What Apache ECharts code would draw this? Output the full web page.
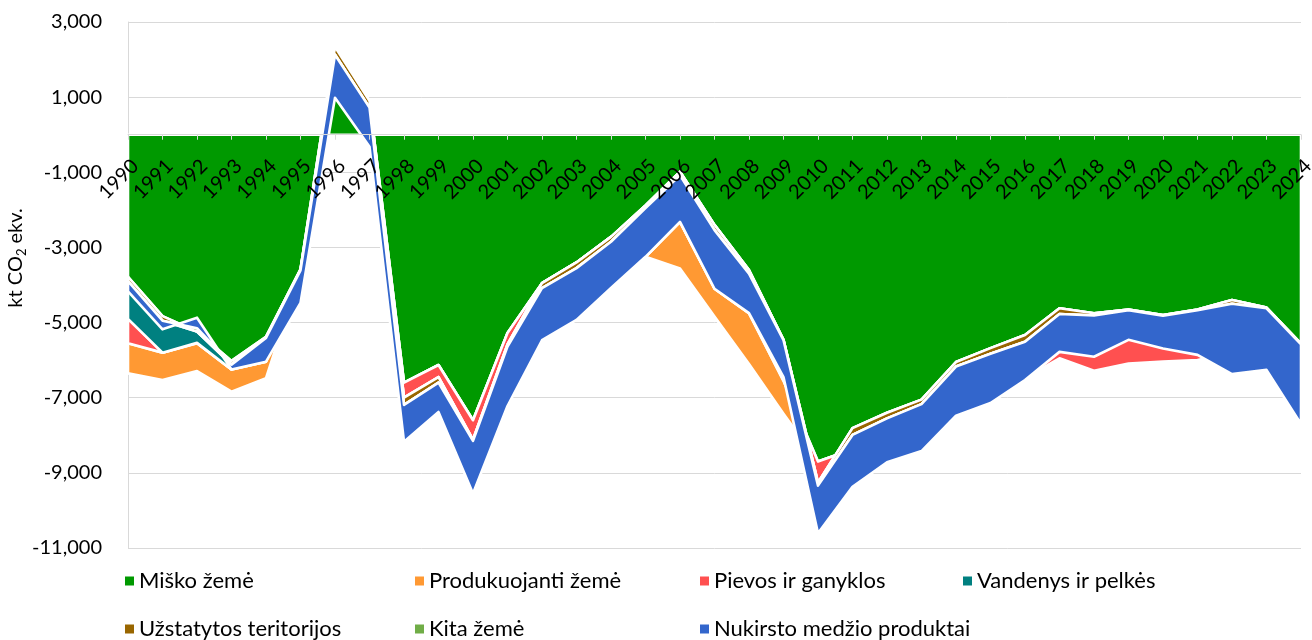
<!DOCTYPE html>
<html>
<head>
<meta charset="utf-8">
<script src="https://cdn.jsdelivr.net/npm/echarts@6/dist/echarts.min.js"></script>
<style>html,body{margin:0;padding:0;background:#fff}#c{width:1312px;height:640px}</style>
</head>
<body>
<div id="c"></div>
<script>
const years = ['1990','1991','1992','1993','1994','1995','1996','1997','1998','1999','2000','2001','2002','2003','2004','2005','2006','2007','2008','2009','2010','2011','2012','2013','2014','2015','2016','2017','2018','2019','2020','2021','2022','2023','2024'];

const miskoZeme     = [-6350,-6530,-6290,-6840,-6480,-3650,1840,900,-6600,-6130,-7600,-5280,-3950,-3400,-2720,-3250,-3560,-4840,-6100,-7430,-8700,-8370,-8100,-7800,-7000,-6600,-6470,-5950,-6280,-6090,-6040,-6000,-5810,-5800,-7000];
const produkuojanti = [800,730,740,590,440,40,300,0,0,0,0,0,0,0,0,0,1240,740,1350,880,0,0,0,0,0,0,0,0,0,0,0,0,0,0,0];
const pievos        = [650,0,10,0,660,30,200,0,-400,-320,-520,-300,0,0,0,1370,1335,1700,1150,1090,-560,560,700,750,950,920,1140,1330,1530,1440,1240,1350,1410,1200,1440];
const vandenys      = [1120,970,300,230,0,0,0,0,0,0,0,0,0,0,0,0,0,0,0,0,0,0,0,0,0,0,0,0,0,0,0,0,0,0,0];
const uzstatytos    = [-120,-120,0,-100,-30,-30,-210,-180,-190,-150,-30,-60,-130,-150,-130,-70,-95,-140,-100,-10,-80,-180,-150,-120,-120,-150,-180,-150,-60,-20,-20,-20,-100,-20,-20];
const kitaZeme      = [0,0,90,0,0,0,0,0,0,0,0,0,0,0,0,0,0,0,0,0,0,0,0,0,0,0,0,0,0,0,0,0,0,0,0];
const nukirsto      = [-270,-230,280,-130,-630,-870,-1145,-1040,-980,-780,-1400,-1580,-1390,-1380,-1230,-1300,-1240,-1560,-1050,-980,-1270,-1380,-1170,-1250,-1310,-1310,-1020,-1010,-1100,-790,-870,-1190,-1870,-1640,-2120];

const yTicks = { min: -11000, max: 3000, step: 2000 };

const seriesNames = ['Miško žemė','Produkuojanti žemė','Pievos ir ganyklos','Vandenys ir pelkės','Užstatytos teritorijos','Kita žemė','Nukirsto medžio produktai'];
const seriesData  = [miskoZeme, produkuojanti, pievos, vandenys, uzstatytos, kitaZeme, nukirsto];
const colors = ['#009900','#FF9933','#FF5050','#008080','#996600','#70AD47','#3366CC'];

// cumulative stacking (all signs summed in series order, like a stacked area chart)
const n = years.length;
const bases = [], tops = [];
let run = years.map(() => 0);
seriesData.forEach(arr => {
  bases.push(run.slice());
  run = run.map((v, i) => v + arr[i]);
  tops.push(run.slice());
});

function makeRender(k) {
  return function (params, api) {
    if (params.dataIndex !== 0) return null;
    const pts = [];
    for (let i = 0; i < n; i++) pts.push(api.coord([i, tops[k][i]]));
    for (let i = n - 1; i >= 0; i--) pts.push(api.coord([i, bases[k][i]]));
    return {
      type: 'polygon',
      shape: { points: pts },
      style: { fill: colors[k], stroke: '#ffffff', lineWidth: 2.6, lineJoin: 'round' }
    };
  };
}

const FONT = 'Lato';
const GRID = { left: 128, right: 11, top: 22, bottom: 92 };
const gridH = 640 - GRID.top - GRID.bottom;
// place the category axis on the zero line
const zeroOffset = -gridH * (0 - yTicks.min) / (yTicks.max - yTicks.min);

const legendPos = [[125,570],[415,570],[700,570],[963,570],[125,618],[415,618],[700,618]];

const option = {
  animation: false,
  backgroundColor: '#fff',
  grid: Object.assign({ containLabel: false, outerBoundsMode: 'none' }, GRID),
  xAxis: {
    type: 'category',
    data: years,
    boundaryGap: false,
    z: 10,
    offset: zeroOffset,
    axisLine: { onZero: false, lineStyle: { color: '#d9d9d9', width: 1 } },
    axisTick: { show: true, alignWithLabel: true, length: 5, lineStyle: { color: '#d9d9d9' } },
    axisLabel: { rotate: 45, interval: 0, fontSize: 20, fontFamily: FONT, color: '#000', margin: 21, verticalAlign: 'top' },
    splitLine: { show: false }
  },
  yAxis: {
    type: 'value',
    min: yTicks.min, max: yTicks.max, interval: yTicks.step,
    axisLine: { show: true, lineStyle: { color: '#d9d9d9' } },
    axisTick: { show: false },
    splitLine: { lineStyle: { color: '#d9d9d9', width: 1 } },
    axisLabel: {
      fontSize: 20, fontFamily: FONT, color: '#000', margin: 26,
      formatter: v => String(v).replace(/\B(?=(\d{3})+(?!\d))/g, ',')
    },
    name: '{a|kt CO}{b|2}{a| ekv.}',
    nameLocation: 'middle',
    nameGap: 100,
    nameMoveOverlap: false,
    nameTextStyle: {
      padding: [0, 0, 0, 54],
      rich: {
        a: { fontSize: 20, fontFamily: FONT, color: '#000', lineHeight: 25, verticalAlign: 'middle' },
        b: { fontSize: 13, fontFamily: FONT, color: '#000', lineHeight: 25, verticalAlign: 'bottom' }
      }
    }
  },
  legend: seriesNames.map((nm, i) => ({
    data: [nm],
    left: legendPos[i][0], top: legendPos[i][1],
    padding: 0,
    icon: 'rect', itemWidth: 9, itemHeight: 9, itemGap: 0,
    selectedMode: false,
    textStyle: { fontSize: 22, fontFamily: FONT, color: '#000' }
  })),
  series: seriesNames.map((nm, k) => ({
    name: nm,
    type: 'custom',
    coordinateSystem: 'cartesian2d',
    itemStyle: { color: colors[k] },
    encode: { x: 0, y: 1 },
    data: years.map((y, i) => [i, seriesData[k][i]]),
    renderItem: makeRender(k)
  }))
};

const chart = echarts.init(document.getElementById('c'), null, { renderer: 'canvas' });
chart.setOption(option);
</script>
</body>
</html>
